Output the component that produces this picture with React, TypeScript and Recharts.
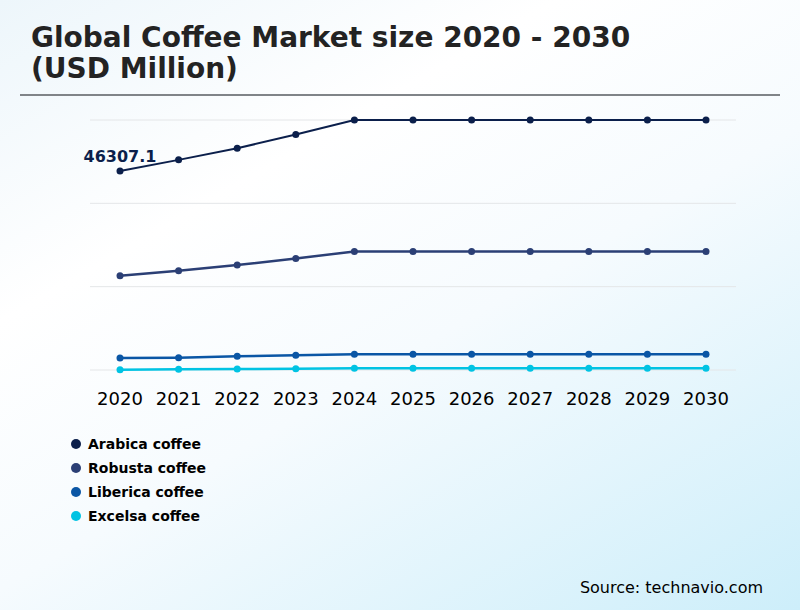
import React from "react";
import {
  LineChart,
  Line,
  XAxis,
  YAxis,
  CartesianGrid,
  LabelList,
} from "recharts";

const YEARS = ["2020", "2021", "2022", "2023", "2024", "2025", "2026", "2027", "2028", "2029", "2030"];

const ARABICA = [46307.1, 48920, 51620, 54820, 58200, 58200, 58200, 58200, 58200, 58200, 58200];
const ROBUSTA = [21930, 23090, 24420, 25960, 27600, 27600, 27600, 27600, 27600, 27600, 27600];
const LIBERICA = [2800, 2870, 3190, 3430, 3660, 3660, 3660, 3660, 3660, 3660, 3660];
const EXCELSA = [70, 160, 230, 300, 400, 400, 400, 400, 400, 400, 400];

const Y_TICKS = [0, 19400, 38800, 58200];

const SERIES = [
  { key: "arabica", name: "Arabica coffee", color: "#0b1f4b", width: 2 },
  { key: "robusta", name: "Robusta coffee", color: "#2b3f75", width: 2.5 },
  { key: "liberica", name: "Liberica coffee", color: "#0a56a5", width: 2.5 },
  { key: "excelsa", name: "Excelsa coffee", color: "#00c3e3", width: 2.5 },
];

const data = YEARS.map((year, i) => ({
  year,
  arabica: ARABICA[i],
  robusta: ROBUSTA[i],
  liberica: LIBERICA[i],
  excelsa: EXCELSA[i],
}));

const FONT = "'DejaVu Sans', sans-serif";

// only the first Arabica point carries a value label
const firstLabel = (props: any) => {
  if (props.index !== 0) return null;
  return (
    <text
      x={props.x}
      y={props.y - 9}
      textAnchor="middle"
      fontSize={16}
      fontWeight="bold"
      fontFamily={FONT}
      fill="#0b1f4b"
    >
      {props.value}
    </text>
  );
};

export default function App() {
  return (
    <div
      style={{
        position: "absolute",
        left: 0,
        top: 0,
        width: 800,
        height: 610,
        overflow: "hidden",
        fontFamily: FONT,
        background:
          "linear-gradient(150deg, #edf6fb 0%, #ffffff 30%, #f6fbfe 55%, #cdeefa 100%)",
      }}
    >
      <div
        style={{
          position: "absolute",
          left: 31,
          top: 22,
          fontSize: 28,
          fontWeight: "bold",
          lineHeight: "31px",
          color: "#232323",
        }}
      >
        Global Coffee Market size 2020 - 2030
        <br />
        (USD Million)
      </div>
      <div
        style={{
          position: "absolute",
          left: 20,
          top: 94,
          width: 760,
          height: 2,
          background: "#808488",
        }}
      />
      <div style={{ position: "absolute", left: 0, top: 0 }}>
        <LineChart
          width={800}
          height={420}
          data={data}
          margin={{ top: 120, right: 64, left: 90, bottom: 20 }}
        >
          <CartesianGrid vertical={false} stroke="#e4e6e8" strokeWidth={1} />
          <XAxis
            dataKey="year"
            axisLine={false}
            tickLine={false}
            tickSize={6}
            tickMargin={16}
            interval={0}
            height={30}
            padding={{ left: 30, right: 30 }}
            tick={{ fontSize: 18, fill: "#000", fontFamily: FONT }}
          />
          <YAxis hide domain={[0, 58200]} ticks={Y_TICKS} />
          {SERIES.map((s) => (
            <Line
              key={s.key}
              dataKey={s.key}
              name={s.name}
              stroke={s.color}
              strokeWidth={s.width}
              type="linear"
              dot={{ r: 3.5, fill: s.color, stroke: s.color, strokeWidth: 0 }}
              activeDot={false}
              isAnimationActive={false}
            >
              {s.key === "arabica" && (
                <LabelList dataKey={s.key} content={firstLabel} />
              )}
            </Line>
          ))}
        </LineChart>
      </div>
      {/* legend */}
      <div style={{ position: "absolute", left: 71, top: 432 }}>
        {SERIES.map((s) => (
          <div
            key={s.key}
            style={{ display: "flex", alignItems: "center", height: 24 }}
          >
            <span
              style={{
                width: 10,
                height: 10,
                borderRadius: 5,
                background: s.color,
                marginRight: 7,
              }}
            />
            <span style={{ fontSize: 14, fontWeight: "bold", color: "#000" }}>
              {s.name}
            </span>
          </div>
        ))}
      </div>
      <div
        style={{
          position: "absolute",
          right: 37,
          top: 578,
          fontSize: 16,
          color: "#000",
        }}
      >
        Source: technavio.com
      </div>
    </div>
  );
}
